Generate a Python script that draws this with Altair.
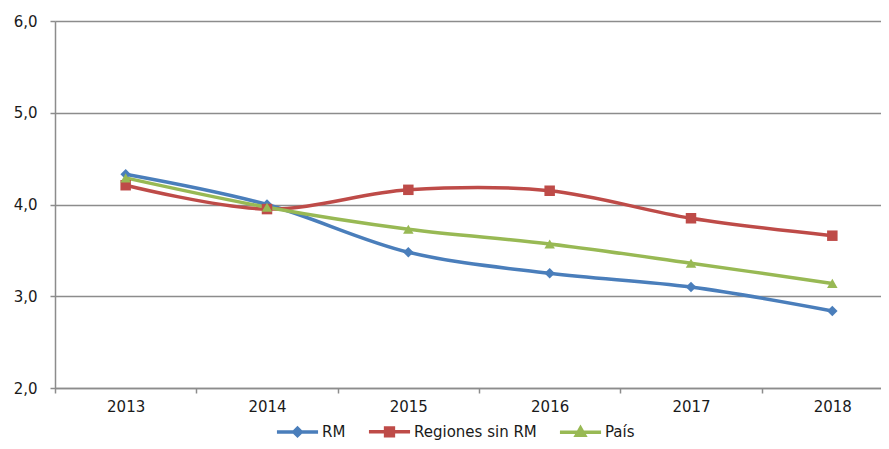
import altair as alt
import pandas as pd

years = ["2013", "2014", "2015", "2016", "2017", "2018"]
series = ["RM", "Regiones sin RM", "País"]
rm = [4.33, 4.00, 3.48, 3.25, 3.10, 2.84]
regiones = [4.21, 3.95, 4.16, 4.15, 3.85, 3.66]
pais = [4.29, 3.97, 3.73, 3.57, 3.36, 3.14]
colors = ["#4A7EBB", "#BE4B48", "#98B954"]
markers = ["diamond", "square", "triangle-up"]
y_ticks = [2, 3, 4, 5, 6]

rows = []
for name, vals in zip(series, [rm, regiones, pais]):
    for yr, v in zip(years, vals):
        rows.append({"Año": yr, "Serie": name, "Valor": v})
df = pd.DataFrame(rows)

FONT = "DejaVu Sans"
GRID = "#8c8c8c"
TXT = "#1a1a1a"

x_enc = alt.X(
    "Año:O",
    bandPosition=0.5,
    scale=alt.Scale(type="band", paddingInner=0, paddingOuter=0, domain=years, range=[0, 848]),
    axis=alt.Axis(
        title=None, tickBand="extent", grid=False, labelAngle=0,
        labelFont=FONT, labelFontSize=15, labelColor=TXT,
        labelPadding=6, tickSize=5, tickColor=GRID, domainColor=GRID,
        domainWidth=1.5, tickWidth=1.5,
    ),
)
y_enc = alt.Y(
    "Valor:Q",
    scale=alt.Scale(domain=[2, 6], nice=False, zero=False),
    axis=alt.Axis(
        title=None, values=y_ticks, grid=True, gridColor=GRID, gridWidth=1.5,
        labelExpr="replace(format(datum.value, '.1f'), '.', ',')",
        labelFont=FONT, labelFontSize=15, labelColor=TXT,
        labelPadding=13, tickSize=5, tickColor=GRID, domainColor=GRID,
        domainWidth=1.5, tickWidth=1.5,
    ),
)
color_scale = alt.Scale(domain=series, range=colors)

base = alt.Chart(df)

lines = base.mark_line(interpolate="catmull-rom", strokeWidth=3.5).encode(
    x=x_enc, y=y_enc,
    color=alt.Color("Serie:N", scale=color_scale, legend=None),
    detail="Serie:N",
)

point_layers = []
for name, mk in zip(series, markers):
    point_layers.append(
        base.transform_filter(alt.datum.Serie == name)
        .mark_point(filled=True, opacity=1, size=110, shape=mk)
        .encode(
            x=x_enc, y=y_enc,
            color=alt.Color("Serie:N", scale=color_scale, legend=None),
        )
    )

legend_paths = [
    "M-1,0H1M-0.18,0L0,-0.18L0.18,0L0,0.18ZM-0.06,0L0,-0.06L0.06,0L0,0.06Z",
    "M-1,0H1M-0.19,-0.19H0.19V0.19H-0.19ZM-0.07,-0.07H0.07V0.07H-0.07Z",
    "M-1,0H1M-0.2,0.15L0,-0.2L0.2,0.15ZM-0.07,0.06L0,-0.07L0.07,0.06Z",
]
leg = alt.Legend(
    title=None, orient="none", direction="horizontal", legendX=220, legendY=388,
    labelFont=FONT, labelFontSize=15, labelColor=TXT, labelOffset=2,
    columnPadding=15, symbolSize=1690, symbolStrokeWidth=3.5, padding=0,
    symbolOpacity=1,
)
legend_layer = base.transform_filter("false").mark_point(filled=False, strokeWidth=3.5, opacity=1).encode(
    x=x_enc, y=y_enc,
    color=alt.Color("Serie:N", scale=color_scale, legend=leg),
    shape=alt.Shape("Serie:N", scale=alt.Scale(domain=series, range=legend_paths), legend=leg),
)

chart = (
    alt.layer(lines, *point_layers, legend_layer)
    .resolve_legend(color="independent", shape="independent")
    .properties(
        width=826, height=367,
        autosize=alt.AutoSizeParams(type="none"),
        padding={"left": 47, "top": 13, "right": 0, "bottom": 53},
    )
    .configure_view(stroke=None)
    .configure(background="white")
)

chart.save("out.html", embed_options={"renderer": "svg", "actions": False})
